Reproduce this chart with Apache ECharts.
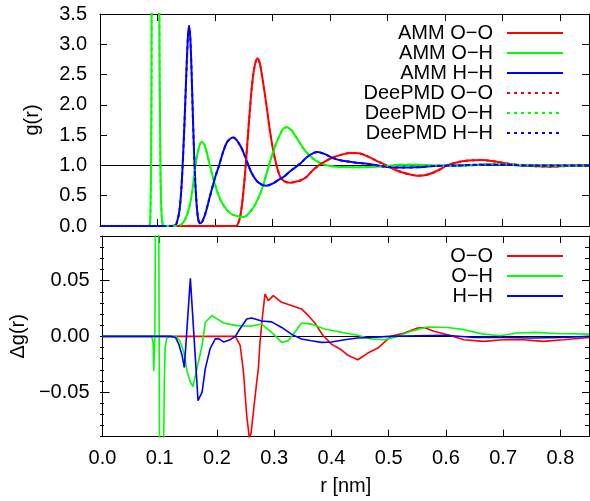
<!DOCTYPE html>
<html>
<head>
<meta charset="utf-8">
<script src="https://cdn.jsdelivr.net/npm/echarts@6/dist/echarts.min.js"></script>
<style>
html,body{margin:0;padding:0;background:#fff;}
#c{width:590px;height:501px;}
</style>
</head>
<body>
<div id="c"></div>
<script>
// ---------- data ----------
// top panel: g(r)
const rOO = [0, 0.230, 0.236, 0.240, 0.244, 0.248, 0.252, 0.256, 0.260, 0.264, 0.268, 0.2735, 0.278, 0.283, 0.2897, 0.295, 0.301, 0.307, 0.313, 0.320, 0.330, 0.340, 0.350, 0.359, 0.370, 0.380, 0.390, 0.400, 0.417, 0.435, 0.450, 0.465, 0.480, 0.498, 0.515, 0.535, 0.553, 0.570, 0.588, 0.603, 0.620, 0.640, 0.663, 0.690, 0.715, 0.735, 0.760, 0.782, 0.810, 0.850];
const gOO = [0, 0, 0.0, 0.04, 0.17, 0.45, 0.85, 1.35, 1.85, 2.3, 2.6, 2.77, 2.68, 2.4, 1.97, 1.6, 1.25, 1.0, 0.82, 0.74, 0.715, 0.73, 0.76, 0.81, 0.92, 1.0, 1.06, 1.11, 1.17, 1.205, 1.2, 1.15, 1.08, 1.0, 0.92, 0.86, 0.83, 0.85, 0.92, 1.0, 1.05, 1.08, 1.09, 1.06, 1.02, 1.0, 0.985, 0.98, 0.99, 1.0];

const rOH = [0, 0.084, 0.086, 0.0875, 0.089, 0.0898, 0.091, 0.093, 0.0965, 0.100, 0.102, 0.103, 0.105, 0.107, 0.109, 0.112, 0.135, 0.140, 0.145, 0.150, 0.155, 0.160, 0.165, 0.170, 0.1767, 0.182, 0.188, 0.195, 0.203, 0.210, 0.220, 0.230, 0.240, 0.250, 0.260, 0.270, 0.280, 0.290, 0.300, 0.310, 0.318, 0.325, 0.333, 0.340, 0.348, 0.356, 0.365, 0.375, 0.388, 0.400, 0.420, 0.445, 0.470, 0.500, 0.520, 0.550, 0.580, 0.610, 0.640, 0.680, 0.720, 0.760, 0.800, 0.850];
const gOH = [0, 0, 0.01, 0.15, 1.2, 3.5, 9, 22, 38, 22, 9, 3.8, 1.0, 0.2, 0.03, 0, 0, 0.02, 0.06, 0.15, 0.3, 0.55, 0.92, 1.22, 1.39, 1.33, 1.12, 0.85, 0.59, 0.42, 0.27, 0.19, 0.16, 0.15, 0.22, 0.36, 0.57, 0.88, 1.2, 1.45, 1.6, 1.63, 1.58, 1.48, 1.36, 1.25, 1.16, 1.08, 1.02, 0.99, 0.972, 0.97, 0.975, 0.99, 1.01, 1.01, 1.0, 0.99, 1.0, 1.02, 1.01, 1.0, 0.995, 0.995];

const rHH = [0, 0.125, 0.130, 0.133, 0.138, 0.142, 0.1466, 0.150, 0.153, 0.155, 0.157, 0.159, 0.162, 0.165, 0.168, 0.171, 0.174, 0.178, 0.183, 0.190, 0.200, 0.207, 0.215, 0.222, 0.2318, 0.243, 0.250, 0.258, 0.265, 0.275, 0.2885, 0.300, 0.310, 0.319, 0.330, 0.348, 0.360, 0.370, 0.378, 0.390, 0.4056, 0.420, 0.446, 0.470, 0.495, 0.520, 0.550, 0.580, 0.620, 0.660, 0.700, 0.750, 0.800, 0.850];
const gHH = [0, 0, 0.01, 0.04, 0.25, 0.7, 1.64, 2.5, 3.15, 3.30, 3.1, 2.6, 1.64, 0.85, 0.35, 0.1, 0.045, 0.08, 0.2, 0.45, 0.8, 1.0, 1.25, 1.40, 1.46, 1.34, 1.2, 1.0, 0.85, 0.72, 0.665, 0.70, 0.76, 0.81, 0.90, 1.03, 1.14, 1.2, 1.22, 1.19, 1.12, 1.08, 1.045, 1.02, 0.98, 0.965, 0.97, 0.99, 1.0, 1.01, 1.01, 1.0, 1.0, 1.0];

// DeePMD curves coincide with the AMM ones at the resolution of the picture
const gOO_dp = gOO.slice();
const gOH_dp = gOH.slice();
const gHH_dp = gHH.slice();

// bottom panel: delta g(r)
const rdOO = [0, 0.232, 0.2405, 0.2463, 0.252, 0.2565, 0.2595, 0.2636, 0.2694, 0.2723, 0.2752, 0.279, 0.2839, 0.2897, 0.2984, 0.313, 0.330, 0.3476, 0.359, 0.371, 0.385, 0.4, 0.417, 0.4288, 0.446, 0.4636, 0.481, 0.504, 0.527, 0.5505, 0.5621, 0.579, 0.603, 0.6316, 0.666, 0.7, 0.735, 0.77, 0.805, 0.85];
const dOO = [0, 0, -0.008, -0.032, -0.071, -0.091, -0.087, -0.068, -0.041, -0.029, -0.005, 0.0156, 0.038, 0.032, 0.0365, 0.0305, 0.0276, 0.0246, 0.019, 0.012, 0.001, -0.007, -0.012, -0.017, -0.021, -0.015, -0.0105, 0, 0.003, 0.0075, 0.008, 0.0045, 0.0015, -0.003, -0.0045, -0.003, -0.003, -0.0045, -0.003, -0.001];

const rdOH = [0, 0.086, 0.0885, 0.0895, 0.0915, 0.093, 0.095, 0.098, 0.099, 0.1, 0.103, 0.106, 0.107, 0.108, 0.1095, 0.112, 0.118, 0.128, 0.135, 0.142, 0.148, 0.1535, 0.158, 0.165, 0.174, 0.1796, 0.191, 0.2115, 0.2347, 0.2578, 0.278, 0.2955, 0.313, 0.3245, 0.336, 0.3476, 0.365, 0.388, 0.417, 0.446, 0.469, 0.4925, 0.516, 0.539, 0.568, 0.603, 0.6316, 0.666, 0.695, 0.724, 0.7575, 0.792, 0.85];
const dOH = [0, 0, -0.006, -0.031, 0.0, 0.15, 0.4, 0.15, 0.0, -0.15, -0.4, -0.15, -0.09, -0.04, -0.01, -0.002, 0, 0, -0.004, -0.014, -0.032, -0.041, -0.045, -0.029, -0.008, 0.0126, 0.0186, 0.012, 0.0096, 0.009, 0.011, 0.0036, -0.0054, -0.004, 0.0036, 0.012, 0.011, 0.0066, 0.0036, 0.001, -0.0024, -0.003, 0.0, 0.0045, 0.0084, 0.008, 0.006, 0.002, 0.0005, 0.003, 0.0036, 0.0025, 0.002];

const rdHH = [0, 0.119, 0.1275, 0.1333, 0.139, 0.143, 0.1535, 0.1669, 0.174, 0.1796, 0.188, 0.197, 0.2028, 0.2115, 0.223, 0.232, 0.240, 0.252, 0.2607, 0.278, 0.2955, 0.313, 0.330, 0.3476, 0.365, 0.3824, 0.4, 0.423, 0.446, 0.47, 0.5, 0.55, 0.6, 0.65, 0.7, 0.75, 0.8, 0.85];
const dHH = [0, 0, -0.001, -0.007, -0.017, -0.028, 0.052, -0.0577, -0.05, -0.029, -0.011, -0.0023, -0.002, -0.005, -0.003, 0.0, 0.0066, 0.0156, 0.0165, 0.0137, 0.013, 0.008, 0.002, -0.0023, -0.004, -0.0054, -0.005, -0.003, -0.0015, -0.001, 0.0, 0.0005, 0.001, -0.001, -0.001, -0.0015, -0.001, 0.0];

// names and ticks
const topNames = ['AMM O\u2212O', 'AMM O\u2212H', 'AMM H\u2212H', 'DeePMD O\u2212O', 'DeePMD O\u2212H', 'DeePMD H\u2212H'];
const botNames = ['O\u2212O', 'O\u2212H', 'H\u2212H'];
const dMajorTicks = [-0.05, 0, 0.05];
const dMinorTicks = [-0.09, -0.08, -0.07, -0.06, -0.05, -0.04, -0.03, -0.02, -0.01, 0, 0.01, 0.02, 0.03, 0.04, 0.05, 0.06, 0.07, 0.08, 0.09];

// ---------- chart ----------
const FONT = '"Liberation Sans", Arial, sans-serif';
const RED = '#ff0000', GREEN = '#00ff00', BLUE = '#0000ff';
const pairs = (xs, ys) => xs.map((x, i) => [x, ys[i]]);

const black = {color: '#000', width: 1};
function xAx(grid, pos, labels, extra) {
  return Object.assign({
    type: 'value', gridIndex: grid, position: pos, min: 0, max: 0.85, interval: 0.1,
    axisLine: {show: true, onZero: false, lineStyle: black},
    axisTick: {show: true, inside: true, length: 7, lineStyle: black},
    axisLabel: {show: labels, fontFamily: FONT, fontSize: 20, color: '#000', margin: 12,
      showMaxLabel: false, formatter: v => v.toFixed(1)},
    splitLine: {show: false}
  }, extra || {});
}
function yTop(pos, labels, extra) {
  return Object.assign({
    type: 'value', gridIndex: 0, position: pos, min: 0, max: 3.5, interval: 0.5,
    axisLine: {show: true, onZero: false, lineStyle: black},
    axisTick: {show: true, inside: true, length: 7, lineStyle: black},
    axisLabel: {show: labels, fontFamily: FONT, fontSize: 20, color: '#000', margin: 13,
      formatter: v => v.toFixed(1)},
    splitLine: {show: false}
  }, extra || {});
}
const fmtD = v => (Math.abs(v) < 1e-9 ? '0.00' : (v < 0 ? '\u2212' : '') + Math.abs(v).toFixed(2));
function yBot(grid, pos, ticks, len, line, labels, extra) {
  return Object.assign({
    type: 'value', gridIndex: grid, position: pos, min: -0.09, max: 0.09,
    axisLine: {show: line, onZero: false, lineStyle: black},
    axisTick: {show: true, inside: true, length: len, lineStyle: black, customValues: ticks},
    axisLabel: {show: labels, fontFamily: FONT, fontSize: 20, color: '#000', margin: 13,
      customValues: ticks, formatter: fmtD},
    splitLine: {show: false}
  }, extra || {});
}

function topSeries(name, xs, ys, color, dotted) {
  return {
    name: name, type: 'line', xAxisIndex: 0, yAxisIndex: 0,
    data: pairs(xs, ys), symbol: 'none', showSymbol: false, smooth: 0.3,
    clip: true, z: dotted ? 3 : 2,
    lineStyle: {color: color, width: 2, type: dotted ? [3, 4] : 'solid'},
    itemStyle: {color: color},
    emphasis: {disabled: true}, animation: false
  };
}
function botSeries(name, xs, ys, color) {
  return {
    name: name, type: 'line', xAxisIndex: 2, yAxisIndex: 2,
    data: pairs(xs, ys), symbol: 'none', showSymbol: false, smooth: false,
    clip: true, z: 2,
    lineStyle: {color: color, width: 1.6},
    itemStyle: {color: color},
    emphasis: {disabled: true}, animation: false
  };
}
const refLine = (val) => ({
  silent: true, symbol: ['none', 'none'], z: 1,
  label: {show: false},
  lineStyle: {color: '#000', width: 1, type: 'solid'},
  emphasis: {disabled: true},
  data: [{yAxis: val}]
});

const s0 = topSeries(topNames[0], rOO, gOO, RED, false);
s0.markLine = refLine(1);
const b0 = botSeries(botNames[0], rdOO, dOO, RED);
b0.markLine = refLine(0);

const legendCommon = {
  orient: 'vertical', right: 26, padding: 0, itemGap: 0,
  itemWidth: 56, itemHeight: 20, align: 'right', selectedMode: false,
  itemStyle: {opacity: 0},
  textStyle: {fontFamily: FONT, fontSize: 20, color: '#000', lineHeight: 20, padding: [0, 9, 0, 0]}
};

const option = {
  animation: false,
  backgroundColor: '#fff',
  grid: [
    {left: 100, top: 14, width: 489, height: 212},
    {left: 100, top: 236, width: 489, height: 200.7},
    {left: 100, top: 236, width: 489, height: 200.7}
  ],
  xAxis: [
    xAx(0, 'bottom', false),
    xAx(0, 'top', false),
    xAx(1, 'bottom', true, {name: 'r [nm]', nameLocation: 'middle', nameGap: 40,
      nameTextStyle: {fontFamily: FONT, fontSize: 20, color: '#000'}}),
    xAx(1, 'top', false),
    {type: 'value', gridIndex: 2, min: 0, max: 0.85, show: false}
  ],
  yAxis: [
    yTop('left', true, {name: 'g(r)', nameLocation: 'middle', nameGap: 58,
      nameTextStyle: {fontFamily: FONT, fontSize: 20, color: '#000'}}),
    yTop('right', false),
    yBot(1, 'left', dMajorTicks, 7, true, true, {name: '\u0394g(r)', nameLocation: 'middle', nameGap: 67,
      nameTextStyle: {fontFamily: FONT, fontSize: 20, color: '#000'}}),
    yBot(1, 'right', dMajorTicks, 7, true, false),
    yBot(2, 'left', dMinorTicks, 4, false, false),
    yBot(2, 'right', dMinorTicks, 4, false, false)
  ],
  legend: [
    Object.assign({}, legendCommon, {top: 23, data: topNames}),
    Object.assign({}, legendCommon, {top: 246, data: botNames})
  ],
  series: [
    s0,
    topSeries(topNames[1], rOH, gOH, GREEN, false),
    topSeries(topNames[2], rHH, gHH, BLUE, false),
    topSeries(topNames[3], rOO, gOO_dp, RED, true),
    topSeries(topNames[4], rOH, gOH_dp, GREEN, true),
    topSeries(topNames[5], rHH, gHH_dp, BLUE, true),
    b0,
    botSeries(botNames[1], rdOH, dOH, GREEN),
    botSeries(botNames[2], rdHH, dHH, BLUE)
  ]
};

const chart = echarts.init(document.getElementById('c'), null, {renderer: 'canvas'});
chart.setOption(option);
</script>
</body>
</html>
